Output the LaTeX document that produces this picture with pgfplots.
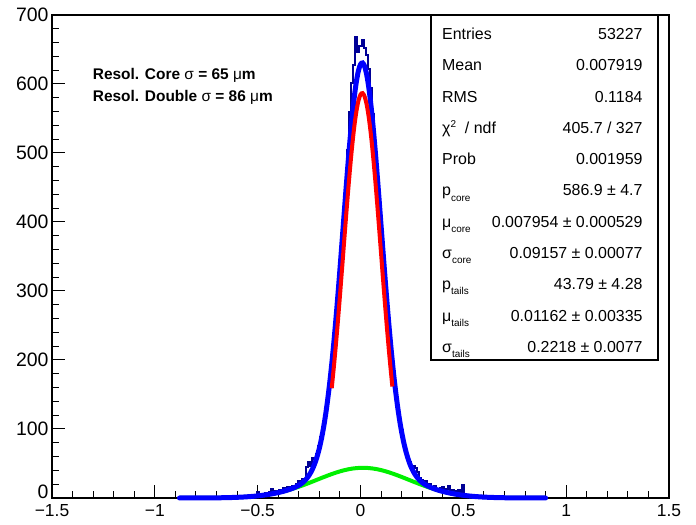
\documentclass[border=0pt]{standalone}
\usepackage{fontspec}
\setmainfont{Liberation Sans}
\usepackage{pgfplots}
\pgfplotsset{compat=1.18}

\definecolor{histc}{RGB}{0,0,150}
\definecolor{fitblue}{RGB}{0,0,255}
\definecolor{corered}{RGB}{255,0,0}
\definecolor{tailgreen}{RGB}{0,240,0}

\newcommand{\sub}[1]{\raisebox{-0.6ex}{\fontsize{10}{10}\selectfont #1}}
\newcommand{\statfont}{\fontsize{16}{16}\selectfont}

\begin{document}
\begin{tikzpicture}[x=1bp,y=1bp]
\path[use as bounding box] (-52,-27) rectangle (644,498);
\begin{axis}[
    at={(0,0)}, anchor=south west,
    scale only axis, width=617bp, height=483bp,
    xmin=-1.5, xmax=1.5, ymin=0, ymax=700,
    xtick={-1.5,-1,-0.5,0,0.5,1,1.5},
    xticklabels={−1.5,−1,−0.5,0,0.5,1,1.5},
    ytick={0,100,200,300,400,500,600,700},
    yticklabels={\raisebox{6bp}[\height][\depth]{0},100,200,300,400,500,600,700},
    minor x tick num=4, minor y tick num=4,
    tick pos=left, tick align=inside,
    major tick length=13bp, minor tick length=7bp,
    tick style={black, line width=1bp},
    axis line style={line width=1.5bp},
    xticklabel style={font=\fontsize{17.5}{17.5}\selectfont, yshift=-3bp},
    yticklabel style={font=\fontsize{19.5}{19.5}\selectfont},
    clip=false,
]
% data histogram (bin centres)
\addplot[histc, line width=2bp, const plot mark mid] coordinates {
(-0.55,2) (-0.54,3) (-0.53,1) (-0.52,4) (-0.51,2) (-0.50,9) (-0.49,4) (-0.48,6)
(-0.47,3) (-0.46,7) (-0.45,5) (-0.44,9) (-0.43,13) (-0.42,6) (-0.41,10) (-0.40,8)
(-0.39,12) (-0.38,9) (-0.37,15) (-0.36,11) (-0.35,16) (-0.34,12) (-0.33,18) (-0.32,15)
(-0.31,20) (-0.30,25) (-0.29,22) (-0.28,28) (-0.27,27) (-0.26,45) (-0.25,52) (-0.24,47)
(-0.23,58) (-0.22,56) (-0.21,64) (-0.20,76) (-0.19,88) (-0.18,103) (-0.17,121) (-0.16,143)
(-0.15,168) (-0.14,196) (-0.13,226) (-0.12,259) (-0.11,296) (-0.10,333) (-0.09,373) (-0.08,412)
(-0.07,458) (-0.06,505) (-0.05,560) (-0.04,602) (-0.03,628) (-0.02,668) (-0.01,646) (0.00,655)
(0.01,664) (0.02,652) (0.03,642) (0.04,622) (0.05,594) (0.06,556) (0.07,515) (0.08,480)
(0.09,445) (0.10,400) (0.11,360) (0.12,322) (0.13,283) (0.14,250) (0.15,215) (0.16,186)
(0.17,158) (0.18,132) (0.19,115) (0.20,98) (0.21,82) (0.22,70) (0.23,57) (0.24,52)
(0.25,44) (0.26,47) (0.27,44) (0.28,37) (0.29,29) (0.30,26) (0.31,22) (0.32,24)
(0.33,19) (0.34,21) (0.35,15) (0.36,17) (0.37,13) (0.38,11) (0.39,14) (0.40,16)
(0.41,9) (0.42,13) (0.43,17) (0.44,8) (0.45,12) (0.46,10) (0.47,7) (0.48,11)
(0.49,6) (0.50,19) (0.51,5) (0.52,4) (0.53,3) (0.54,4) (0.55,2)
};
% tails gaussian
\addplot[tailgreen, line width=4bp, smooth] coordinates {
(-0.88,0.014) (-0.84,0.028) (-0.80,0.054) (-0.76,0.103) (-0.72,0.190) (-0.68,0.339)
(-0.64,0.585) (-0.60,0.978) (-0.56,1.582) (-0.52,2.476) (-0.48,3.755) (-0.44,5.51)
(-0.40,7.82) (-0.36,10.76) (-0.32,14.32) (-0.28,18.45) (-0.24,23.01) (-0.20,27.78)
(-0.16,32.46) (-0.12,36.72) (-0.08,40.21) (-0.04,42.62) (0.00,43.73) (0.04,43.43)
(0.08,41.76) (0.12,38.86) (0.16,35.01) (0.20,30.53) (0.24,25.77) (0.28,21.06)
(0.32,16.66) (0.36,12.75) (0.40,9.45) (0.44,6.78) (0.48,4.71) (0.52,3.166)
(0.56,2.060) (0.60,1.298) (0.64,0.792) (0.68,0.467) (0.72,0.267) (0.76,0.148)
(0.80,0.079) (0.84,0.041) (0.88,0.021) (0.90,0.014)
};
% total fit
\addplot[fitblue, line width=5bp, smooth, line cap=round] coordinates {
(-0.88,0.014) (-0.84,0.028) (-0.80,0.054) (-0.76,0.103) (-0.72,0.19) (-0.68,0.339)
(-0.64,0.585) (-0.60,0.978) (-0.56,1.582) (-0.52,2.476) (-0.48,3.755) (-0.44,5.51)
(-0.40,7.85) (-0.36,10.94) (-0.32,15.28)
(-0.30,18.4) (-0.29,20.3) (-0.28,22.6) (-0.27,25.4) (-0.26,28.8) (-0.25,33.0)
(-0.24,38.0) (-0.23,44.3) (-0.22,51.9) (-0.21,61.1) (-0.20,72.3) (-0.19,85.7)
(-0.18,101.6) (-0.17,120.1) (-0.16,141.7) (-0.15,166.2) (-0.14,193.8) (-0.13,224.4)
(-0.12,257.9) (-0.11,293.7) (-0.10,331.5) (-0.09,370.6) (-0.08,410.2) (-0.07,449.5)
(-0.06,487.2) (-0.05,522.5) (-0.04,554.3) (-0.03,581.6) (-0.02,603.6) (-0.01,619.3)
(0.00,628.4) (0.01,630.5) (0.02,625.6) (0.03,613.7) (0.04,595.4) (0.05,571.3)
(0.06,542.1) (0.07,508.8) (0.08,472.5) (0.09,434.0) (0.10,394.7) (0.11,355.1)
(0.12,316.5) (0.13,279.5) (0.14,244.5) (0.15,212.2) (0.16,182.8) (0.17,156.5)
(0.18,133.3) (0.19,113.0) (0.20,95.6) (0.21,80.8) (0.22,68.4) (0.23,58.0)
(0.24,49.4) (0.25,42.4) (0.26,36.7) (0.27,32.0) (0.28,28.2) (0.29,25.0) (0.30,22.4)
(0.32,18.43) (0.36,13.11) (0.40,9.51) (0.44,6.79) (0.48,4.71) (0.52,3.17)
(0.56,2.06) (0.60,1.30) (0.64,0.79) (0.68,0.47) (0.72,0.27) (0.76,0.15)
(0.80,0.08) (0.84,0.04) (0.88,0.02) (0.90,0.014)
};
% core gaussian
\addplot[corered, line width=4bp, smooth] coordinates {
(-0.14,159.1) (-0.13,188.7) (-0.12,221.2) (-0.11,256.0) (-0.10,292.9) (-0.09,331.2)
(-0.08,370.0) (-0.07,408.6) (-0.06,445.6) (-0.05,480.4) (-0.04,511.7) (-0.03,538.6)
(-0.02,560.2) (-0.01,575.7) (0.00,584.7) (0.01,586.75) (0.02,581.8) (0.03,570.1)
(0.04,552.0) (0.05,528.2) (0.06,499.3) (0.07,466.5) (0.08,430.7) (0.09,392.9)
(0.10,354.2) (0.11,315.4) (0.12,277.6) (0.13,241.5) (0.14,207.5) (0.15,176.2)
(0.155,161.5)
};
\end{axis}

% fit text
\node[anchor=base west, font=\bfseries\fontsize{15.5}{15.5}\selectfont, inner sep=0]
  at (40.7,418.5) {Resol. Core {\mdseries σ} = 65 {\mdseries μ}m};
\node[anchor=base west, font=\bfseries\fontsize{15.5}{15.5}\selectfont, inner sep=0]
  at (40.7,396) {Resol. Double {\mdseries σ} = 86 {\mdseries μ}m};

% statistics box
\draw[line width=1.8bp, fill=white] (379,138) rectangle (606,483);
\foreach \lab/\val [count=\i from 0] in {
  Entries/53227,
  Mean/0.007919,
  RMS/0.1184,
  {χ\raisebox{0.75ex}{\fontsize{10}{10}\selectfont 2}\ \ / ndf}/{405.7 / 327},
  Prob/0.001959,
  {p\sub{core}}/{586.9 ± 4.7},
  {μ\sub{core}}/{0.007954 ± 0.000529},
  {σ\sub{core}}/{0.09157 ± 0.00077},
  {p\sub{tails}}/{43.79 ± 4.28},
  {μ\sub{tails}}/{0.01162 ± 0.00335},
  {σ\sub{tails}}/{0.2218 ± 0.0077}} {
  \pgfmathsetmacro{\yy}{464-31.3*\i-5.5}
  \node[anchor=base west, font=\statfont, inner sep=0] at (390,\yy) {\lab};
  \node[anchor=base east, font=\statfont, inner sep=0] at (590.7,\yy) {\val};
}
\end{tikzpicture}
\end{document}
